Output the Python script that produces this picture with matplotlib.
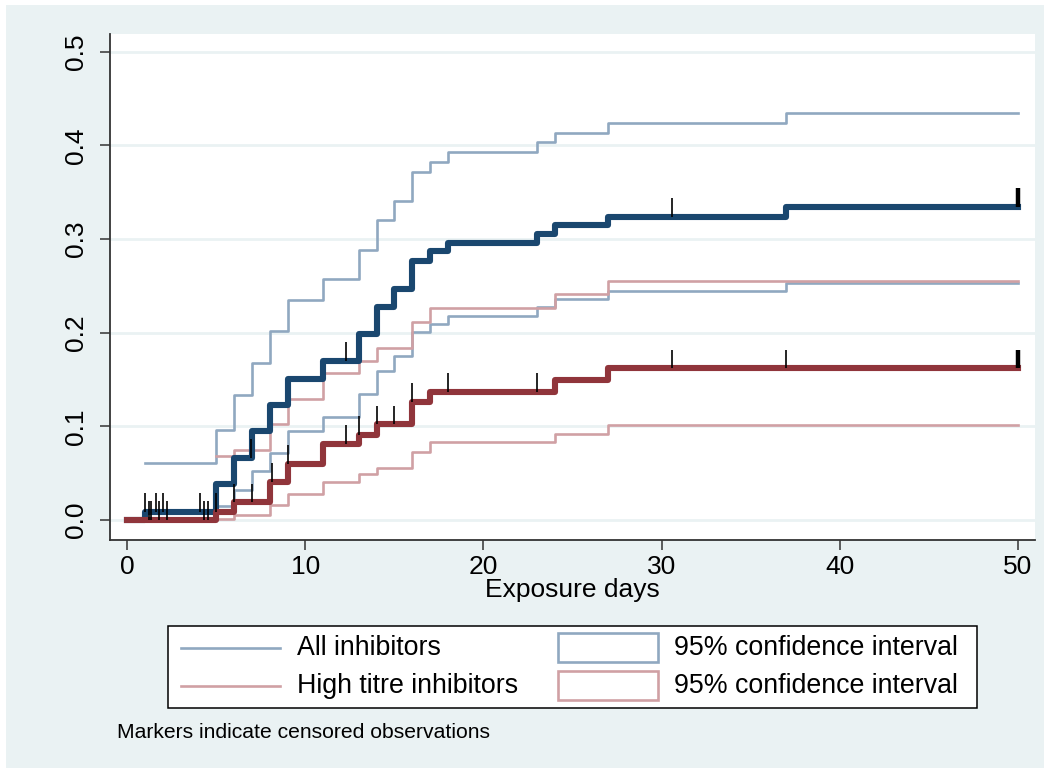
import numpy as np
import matplotlib
matplotlib.use("Agg")
import matplotlib.pyplot as plt
from matplotlib.patches import Rectangle
from matplotlib.lines import Line2D

plt.rcParams['font.family'] = ['Liberation Sans', 'DejaVu Sans']

# ---------------- data ----------------
t_end = 50
times_all = [0, 1, 5, 6, 7, 8, 9, 11, 13, 14, 15, 16, 17, 18, 23, 24, 27, 37]
km_all = [0, 0.009, 0.038, 0.066, 0.095, 0.123, 0.151, 0.170, 0.199, 0.227,
          0.247, 0.276, 0.287, 0.296, 0.305, 0.315, 0.324, 0.334]
upper_all = [np.nan, 0.061, 0.096, 0.133, 0.168, 0.202, 0.235, 0.257, 0.288, 0.320,
             0.341, 0.371, 0.382, 0.393, 0.403, 0.413, 0.424, 0.434]
lower_all = [np.nan, 0.0013, 0.015, 0.032, 0.052, 0.072, 0.095, 0.110, 0.135, 0.159,
             0.175, 0.201, 0.209, 0.218, 0.227, 0.236, 0.245, 0.253]
cens_all = [1.0, 1.6, 2.0, 4.1, 6.95, 12.3, 30.6, 50]

times_high = [0, 5, 6, 8, 9, 11, 13, 14, 16, 17, 24, 27]
km_high = [0, 0.009, 0.019, 0.041, 0.060, 0.081, 0.091, 0.102, 0.126, 0.137, 0.150, 0.162]
upper_high = [np.nan, 0.068, 0.075, 0.102, 0.129, 0.157, 0.170, 0.184, 0.211, 0.226, 0.241, 0.255]
lower_high = [np.nan, 0.0015, 0.005, 0.016, 0.028, 0.041, 0.049, 0.056, 0.073, 0.083, 0.092, 0.101]
cens_high = [1.2, 1.3, 1.8, 2.2, 4.3, 4.5, 5.0, 6.0, 7.0, 8.1, 9.0, 12.3, 13.0, 14.0,
             15.0, 16.0, 18.0, 23.0, 30.6, 37.0, 50]

x_ticks = [0, 10, 20, 30, 40, 50]
y_ticks = [0.0, 0.1, 0.2, 0.3, 0.4, 0.5]
y_ticklabels = ["0.0", "0.1", "0.2", "0.3", "0.4", "0.5"]
x_label = "Exposure days"
legend_labels = ["All inhibitors", "High titre inhibitors",
                 "95% confidence interval", "95% confidence interval"]
note = "Markers indicate censored observations"

# ---------------- styles ----------------
BG = '#EAF2F3'
C_ALL = '#1a476f'
C_HIGH = '#90353b'
C_ALL_CI = '#90a8c0'
C_HIGH_CI = '#d0a0a4'
FS = 19

fig = plt.figure(figsize=(10.5, 7.73), dpi=100)
fig.patch.set_facecolor('white')

bg = fig.add_axes([0, 0, 1, 1], zorder=0)
bg.set_xlim(0, 1050)
bg.set_ylim(773, 0)
bg.axis('off')
bg.add_patch(Rectangle((6, 5), 1038, 763, fc=BG, ec='none'))

ax = fig.add_axes([110 / 1050, (773 - 540) / 773, (1035 - 110) / 1050, (540 - 34) / 773], zorder=1)
ax.set_facecolor('white')


def stepline(times, vals, start=0, **kw):
    t = np.append(np.asarray(times, float)[start:], t_end)
    v = np.asarray(vals, float)[start:]
    v = np.append(v, v[-1])
    ax.step(t, v, where='post', solid_joinstyle='round', **kw)


def km_at(times, vals, t):
    i = np.searchsorted(times, t, side='right') - 1
    return vals[i]


stepline(times_all, upper_all, start=1, color=C_ALL_CI, lw=1.9, zorder=2)
stepline(times_all, lower_all, start=1, color=C_ALL_CI, lw=1.9, zorder=2)
stepline(times_high, upper_high, start=1, color=C_HIGH_CI, lw=1.9, zorder=2.1)
stepline(times_high, lower_high, start=1, color=C_HIGH_CI, lw=1.9, zorder=2.1)
stepline(times_all, km_all, color=C_ALL, lw=4.4, zorder=3)
stepline(times_high, km_high, color=C_HIGH, lw=4.4, zorder=3.1)

tick_h = 0.02
for times, vals, cens in [(times_all, km_all, cens_all), (times_high, km_high, cens_high)]:
    for c in cens:
        y = km_at(times, vals, c)
        lw = 3.2 if c >= t_end else 1.2
        ax.plot([c, c], [y, y + tick_h], color='black', lw=lw, zorder=4,
                solid_capstyle='butt')

ax.set_xlim(-0.98, 50.98)
ax.set_ylim(-0.0213, 0.5188)
ax.set_xticks(x_ticks)
ax.set_yticks(y_ticks)
ax.set_yticklabels(y_ticklabels, rotation=90, va='center')
ax.tick_params(axis='both', direction='out', length=7, width=1.1, color='#333333',
               labelsize=FS, labelcolor='black')
ax.tick_params(axis='y', pad=9)
ax.tick_params(axis='x', pad=4)
ax.set_xlabel(x_label, fontsize=FS, labelpad=-1)
ax.yaxis.grid(True, color=BG, lw=2)
ax.set_axisbelow(True)
for s in ['top', 'right']:
    ax.spines[s].set_visible(False)
for s in ['left', 'bottom']:
    ax.spines[s].set_color('#333333')
    ax.spines[s].set_linewidth(1.3)

# ---------------- legend (pixel coordinates) ----------------
bg.add_patch(Rectangle((168, 626), 809, 82, fc='white', ec='black', lw=1.1, zorder=2))
bg.add_line(Line2D([181, 280], [648, 648], color=C_ALL_CI, lw=1.9, zorder=3))
bg.add_line(Line2D([181, 280], [686, 686], color=C_HIGH_CI, lw=1.9, zorder=3))
bg.text(297, 648, legend_labels[0], fontsize=19.3, va='center', ha='left', zorder=3)
bg.text(297, 686, legend_labels[1], fontsize=19.3, va='center', ha='left', zorder=3)
bg.add_patch(Rectangle((558, 633), 100, 29, fc='white', ec=C_ALL_CI, lw=1.9, zorder=3))
bg.add_patch(Rectangle((558, 671), 100, 29, fc='white', ec=C_HIGH_CI, lw=1.9, zorder=3))
bg.text(674, 648, legend_labels[2], fontsize=19.3, va='center', ha='left', zorder=3)
bg.text(674, 686, legend_labels[3], fontsize=19.3, va='center', ha='left', zorder=3)
bg.text(117, 733, note, fontsize=15.2, va='center', ha='left', zorder=3)

fig.savefig('out.png', dpi=100, facecolor=fig.get_facecolor())
